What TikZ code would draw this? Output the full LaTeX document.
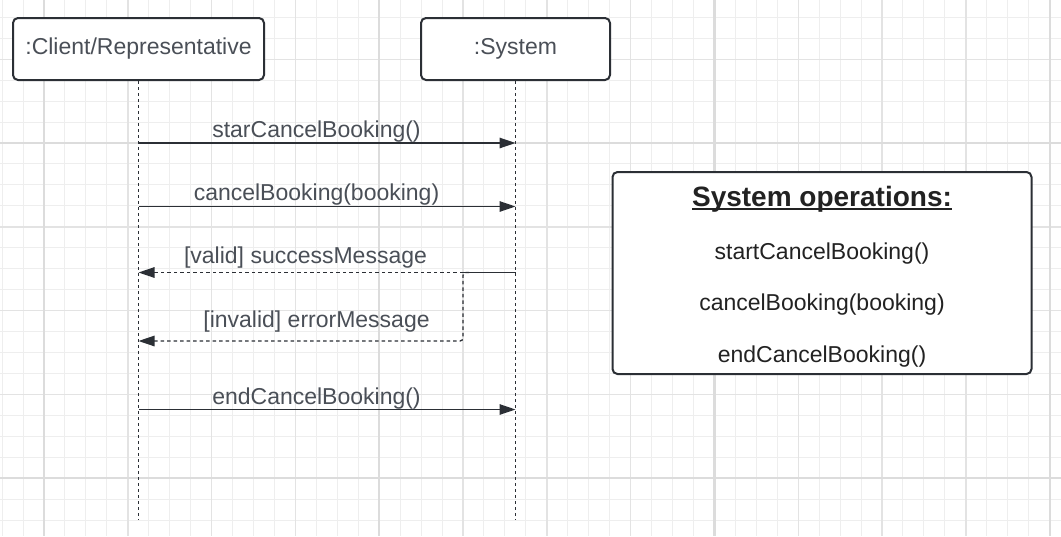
\documentclass[tikz,border=0pt]{standalone}
\usepackage{fontspec}
\setmainfont{Liberation Sans}
\usetikzlibrary{arrows.meta}
\definecolor{gridthin}{HTML}{EEEEEE}
\definecolor{gridmid}{HTML}{E3E3E3}
\definecolor{gridthick}{HTML}{DCDCDC}
\definecolor{ink}{HTML}{2B2F35}
\definecolor{msgtext}{HTML}{4A4F57}
\definecolor{optext}{HTML}{222222}
\newcommand\thickul[1]{\setbox0\hbox{#1}\rlap{\rule[-3.8pt]{\wd0}{1.8pt}}\box0}
\begin{document}
\begin{tikzpicture}[x=1pt,y=-1pt,
  thinrule/.style={draw=gridthin, line width=1},
  midrule/.style={draw=gridmid, line width=1.4},
  thickrule/.style={draw=gridthick, line width=2.2},
  head/.style={draw=ink, line width=2, rounded corners=5, fill=white, text=msgtext, inner sep=0, minimum height=62, font=\fontsize{23}{27}\selectfont},
  life/.style={draw=ink, line width=0.9, dash pattern=on 3 off 3},
  msgline/.style={draw=ink, line width=1.3},
  call/.style={msgline, -{Triangle[length=16,width=10.5]}},
  reply/.style={call, dash pattern=on 3.5 off 3},
  lbl/.style={text=msgtext, anchor=base, inner sep=0, font=\fontsize{23}{27}\selectfont},
  opsbox/.style={draw=ink, line width=2, rounded corners=5, fill=white, minimum width=419, minimum height=202},
  optitle/.style={text=optext, anchor=base, inner sep=0, font=\fontsize{28}{32}\selectfont\bfseries},
  opitem/.style={text=optext, anchor=base, inner sep=0, font=\fontsize{23}{27}\selectfont}]
\useasboundingbox (0,0) rectangle (1061,536);
\fill[white] (0,0) rectangle (1061,536);
\foreach \k in {-2,...,48} \draw[thinrule] (44+20.95*\k,0) -- (44+20.95*\k,536);
\foreach \k in {-6,...,18} \draw[thinrule] (0,143+20.95*\k) -- (1061,143+20.95*\k);
\foreach \k in {0,...,12} \draw[midrule] (44+83.8*\k,0) -- (44+83.8*\k,536);
\foreach \k in {-1,...,4} \draw[midrule] (0,143+83.8*\k) -- (1061,143+83.8*\k);
\foreach \k in {0,...,3} \draw[thickrule] (44+335.2*\k,0) -- (44+335.2*\k,536);
\foreach \k in {0,1} \draw[thickrule] (0,143+335.2*\k) -- (1061,143+335.2*\k);
\node[head, minimum width=251] (obj0) at (138.5,49){:Client/Representative};
\node[head, minimum width=189] (obj1) at (515.5,49){:System};
\coordinate (end0) at (138.5,520);
\coordinate (end1) at (515.5,520);
\draw[life](obj0) -- (end0);
\draw[life](obj1) -- (end1);
\coordinate (c1) at (138.5,143);
\coordinate (s1) at (515.5,143);
\draw[call](c1) -- (s1);
\node[lbl] (lbl1) at (316.5,137){starCancelBooking()};
\coordinate (c2) at (138.5,206.5);
\coordinate (s2) at (515.5,206.5);
\draw[call](c2) -- (s2);
\node[lbl] (lbl2) at (316.5,200){cancelBooking(booking)};
\coordinate (c3) at (138.5,272.5);
\coordinate (s3) at (515.5,272.5);
\coordinate (fork) at (463,272.5);
\coordinate (bend) at (463,341);
\coordinate (c4) at (138.5,341);
\draw[reply, rounded corners=3]([xshift=6pt]fork) -| (bend) -- (c4);
\draw[reply](fork) -- (c3);
\draw[msgline](s3) -- (fork);
\node[lbl] (lbl3) at (305.5,263){[valid] successMessage};
\node[lbl] (lbl4) at (316.5,327){[invalid] errorMessage};
\coordinate (c5) at (138.5,409.5);
\coordinate (s5) at (515.5,409.5);
\draw[call](c5) -- (s5);
\node[lbl] (lbl5) at (316.5,404){endCancelBooking()};
\node[opsbox] (ops) at (822,273){};
\node[optitle] (op0) at (822,206){\thickul{System operations:}};
\node[opitem] (op1) at (822,259.3){startCancelBooking()};
\node[opitem] (op2) at (822,310.7){cancelBooking(booking)};
\node[opitem] (op3) at (822,362.7){endCancelBooking()};
\end{tikzpicture}
\end{document}
